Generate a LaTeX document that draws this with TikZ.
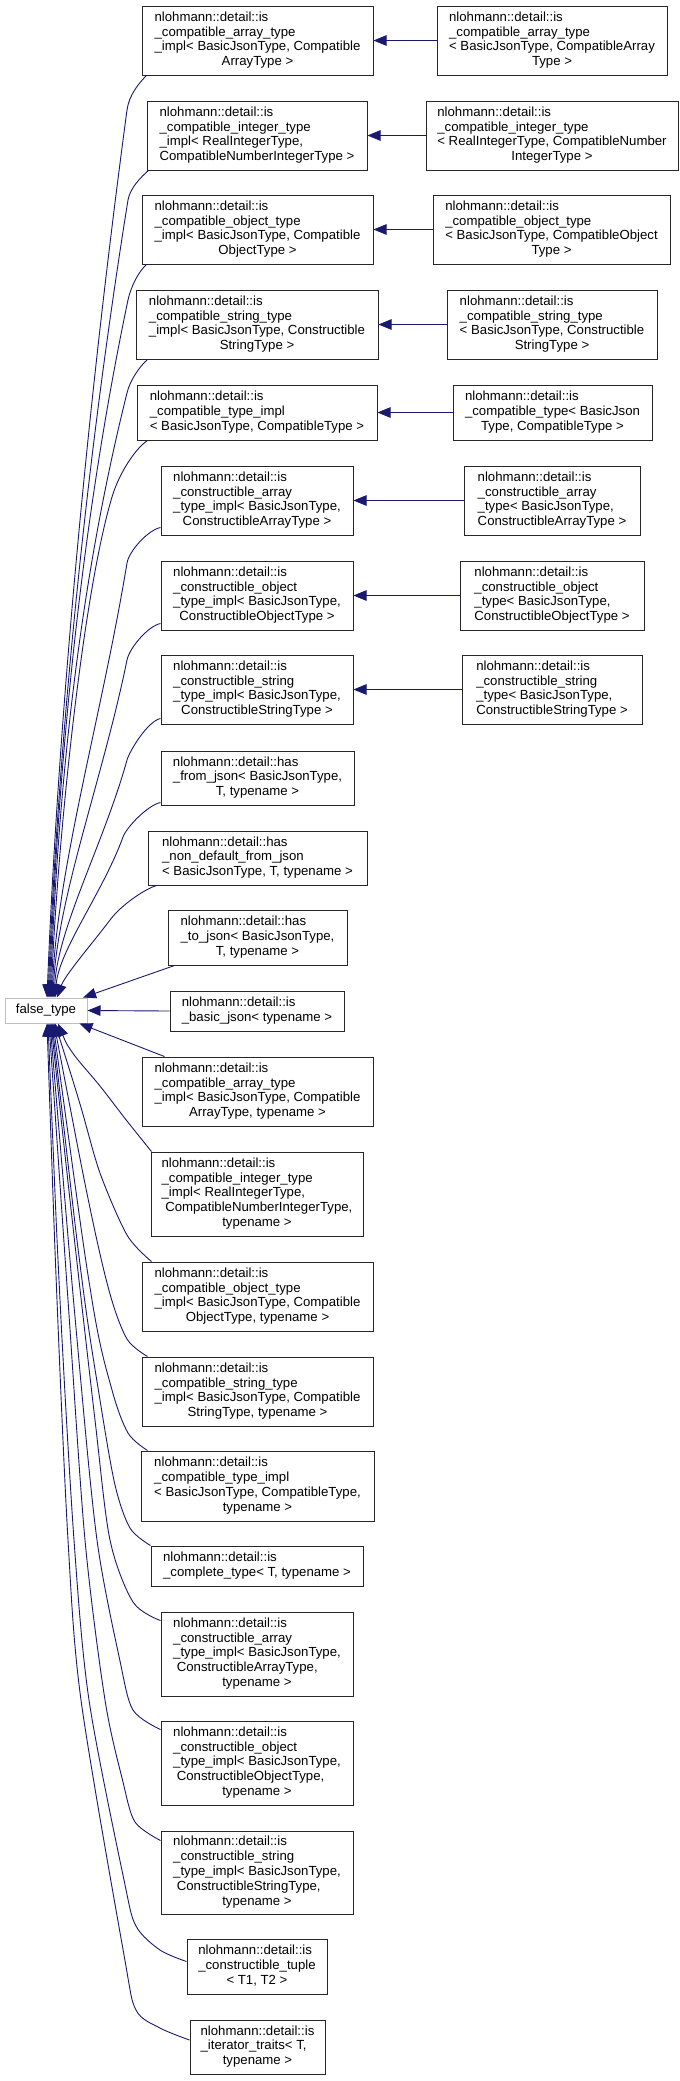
\documentclass[tikz,border=0pt]{standalone}
\usepackage{fontspec}
\setmainfont{Liberation Sans}
\usetikzlibrary{arrows.meta}
\definecolor{edgecol}{HTML}{191970}
\newcommand{\lbl}[2]{\begin{tabular}{@{}l@{}}#1\\\multicolumn{1}{@{}c@{}}{#2}\end{tabular}}
\begin{document}
\begin{tikzpicture}[x=1pt,y=-1pt,
  font=\fontsize{13.2}{14.8}\selectfont,
  box/.style={draw=black!85, line width=1pt, fill=white, inner sep=0pt},
  gbox/.style={draw=black!25, line width=1pt, fill=white, inner sep=0pt},
  arr/.style={draw=edgecol, line width=0.9pt, {Triangle[length=13pt,width=10.5pt]}-}]
\fill[white] (0,0) rectangle (680,2081);
\useasboundingbox (0,0) rectangle (680,2081);

% upper pairs
\node[box, minimum width=231pt, minimum height=69pt] (L1) at (257.5,40.5) {\lbl{nlohmann::detail::is\\\_compatible\_array\_type\\\_impl< BasicJsonType, Compatible}{ArrayType >}};
\node[box, minimum width=230pt, minimum height=69pt] (R1) at (552,40.5) {\lbl{nlohmann::detail::is\\\_compatible\_array\_type\\< BasicJsonType, CompatibleArray}{Type >}};
\node[box, minimum width=220pt, minimum height=69pt] (L2) at (257,135.5) {\lbl{nlohmann::detail::is\\\_compatible\_integer\_type\\\_impl< RealIntegerType,}{CompatibleNumberIntegerType >}};
\node[box, minimum width=252pt, minimum height=69pt] (R2) at (552,135.5) {\lbl{nlohmann::detail::is\\\_compatible\_integer\_type\\< RealIntegerType, CompatibleNumber}{IntegerType >}};
\node[box, minimum width=231pt, minimum height=69pt] (L3) at (257.5,229.5) {\lbl{nlohmann::detail::is\\\_compatible\_object\_type\\\_impl< BasicJsonType, Compatible}{ObjectType >}};
\node[box, minimum width=237pt, minimum height=69pt] (R3) at (551.5,229.5) {\lbl{nlohmann::detail::is\\\_compatible\_object\_type\\< BasicJsonType, CompatibleObject}{Type >}};
\node[box, minimum width=242pt, minimum height=69pt] (L4) at (257,324.5) {\lbl{nlohmann::detail::is\\\_compatible\_string\_type\\\_impl< BasicJsonType, Constructible}{StringType >}};
\node[box, minimum width=210pt, minimum height=69pt] (R4) at (552,324.5) {\lbl{nlohmann::detail::is\\\_compatible\_string\_type\\< BasicJsonType, Constructible}{StringType >}};
\node[box, minimum width=240pt, minimum height=55pt] (L5) at (257,412.5) {\lbl{nlohmann::detail::is\\\_compatible\_type\_impl}{< BasicJsonType, CompatibleType >}};
\node[box, minimum width=199pt, minimum height=55pt] (R5) at (552.5,412.5) {\lbl{nlohmann::detail::is\\\_compatible\_type< BasicJson}{Type, CompatibleType >}};
\node[box, minimum width=192pt, minimum height=69pt] (L6) at (257,500.5) {\lbl{nlohmann::detail::is\\\_constructible\_array\\\_type\_impl< BasicJsonType,}{ConstructibleArrayType >}};
\node[box, minimum width=176pt, minimum height=69pt] (R6) at (552,500.5) {\lbl{nlohmann::detail::is\\\_constructible\_array\\\_type< BasicJsonType,}{ConstructibleArrayType >}};
\node[box, minimum width=192pt, minimum height=69pt] (L7) at (257,595.5) {\lbl{nlohmann::detail::is\\\_constructible\_object\\\_type\_impl< BasicJsonType,}{ConstructibleObjectType >}};
\node[box, minimum width=184pt, minimum height=69pt] (R7) at (552,595.5) {\lbl{nlohmann::detail::is\\\_constructible\_object\\\_type< BasicJsonType,}{ConstructibleObjectType >}};
\node[box, minimum width=192pt, minimum height=69pt] (L8) at (257,689.5) {\lbl{nlohmann::detail::is\\\_constructible\_string\\\_type\_impl< BasicJsonType,}{ConstructibleStringType >}};
\node[box, minimum width=180pt, minimum height=69pt] (R8) at (552,689.5) {\lbl{nlohmann::detail::is\\\_constructible\_string\\\_type< BasicJsonType,}{ConstructibleStringType >}};
\node[box, minimum width=193pt, minimum height=54pt] (L9) at (257.5,778) {\lbl{nlohmann::detail::has\\\_from\_json< BasicJsonType,}{T, typename >}};
\node[box, minimum width=219pt, minimum height=54pt] (L10) at (257.5,858) {\lbl{nlohmann::detail::has\\\_non\_default\_from\_json}{< BasicJsonType, T, typename >}};
\node[box, minimum width=179pt, minimum height=55pt] (L11) at (257.5,937.5) {\lbl{nlohmann::detail::has\\\_to\_json< BasicJsonType,}{T, typename >}};
\node[gbox, minimum width=82pt, minimum height=25pt] (F) at (46,1010.5) {false\_type};
\node[box, minimum width=174pt, minimum height=40pt] (L12) at (257,1011) {\lbl{nlohmann::detail::is}{\_basic\_json< typename >}};
% lower
\node[box, minimum width=231pt, minimum height=69pt] (L13) at (257.5,1091.5) {\lbl{nlohmann::detail::is\\\_compatible\_array\_type\\\_impl< BasicJsonType, Compatible}{ArrayType, typename >}};
\node[box, minimum width=212pt, minimum height=84pt] (L14) at (257,1194) {\lbl{nlohmann::detail::is\\\_compatible\_integer\_type\\\_impl< RealIntegerType,\\\ CompatibleNumberIntegerType,}{typename >}};
\node[box, minimum width=231pt, minimum height=69pt] (L15) at (257.5,1296.5) {\lbl{nlohmann::detail::is\\\_compatible\_object\_type\\\_impl< BasicJsonType, Compatible}{ObjectType, typename >}};
\node[box, minimum width=231pt, minimum height=69pt] (L16) at (257.5,1391.5) {\lbl{nlohmann::detail::is\\\_compatible\_string\_type\\\_impl< BasicJsonType, Compatible}{StringType, typename >}};
\node[box, minimum width=233pt, minimum height=70pt] (L17) at (257.5,1486) {\lbl{nlohmann::detail::is\\\_compatible\_type\_impl\\< BasicJsonType, CompatibleType,}{typename >}};
\node[box, minimum width=212pt, minimum height=40pt] (L18) at (257,1566) {\lbl{nlohmann::detail::is}{\_complete\_type< T, typename >}};
\node[box, minimum width=192pt, minimum height=84pt] (L19) at (257,1654) {\lbl{nlohmann::detail::is\\\_constructible\_array\\\_type\_impl< BasicJsonType,\\\ ConstructibleArrayType,}{typename >}};
\node[box, minimum width=192pt, minimum height=84pt] (L20) at (257,1763) {\lbl{nlohmann::detail::is\\\_constructible\_object\\\_type\_impl< BasicJsonType,\\\ ConstructibleObjectType,}{typename >}};
\node[box, minimum width=192pt, minimum height=83pt] (L21) at (257,1872.5) {\lbl{nlohmann::detail::is\\\_constructible\_string\\\_type\_impl< BasicJsonType,\\\ ConstructibleStringType,}{typename >}};
\node[box, minimum width=140pt, minimum height=55pt] (L22) at (257,1966.5) {\lbl{nlohmann::detail::is\\\_constructible\_tuple}{< T1, T2 >}};
\node[box, minimum width=135pt, minimum height=54pt] (L23) at (257.5,2047) {\lbl{nlohmann::detail::is\\\_iterator\_traits< T,}{typename >}};

% horizontal edges
\foreach \i in {1,...,8} \draw[arr] (L\i.east) -- (R\i.west);

% upper curved edges
\draw[arr] ([xshift=1pt]F.north) .. controls (57.7,732) and (85.4,421) .. (127,110) .. controls (129,95) and (139,83) .. ([xshift=5pt]L1.south west);
\draw[arr] ([xshift=2pt]F.north) .. controls (57.6,759) and (83.3,479) .. (128,200) .. controls (130,188) and (141,177) .. ([xshift=2pt]L2.south west);
\draw[arr] ([xshift=3pt]F.north) .. controls (57.4,789) and (76.8,544) .. (128,300) .. controls (131,286) and (139,271) .. ([xshift=5pt]L3.south west);
\draw[arr] ([xshift=4pt]F.north) .. controls (57.3,816) and (74,605) .. (127,393) .. controls (130,380) and (140,366) .. ([xshift=12pt]L4.south west);
\draw[arr] ([xshift=5pt]F.north) .. controls (57,848) and (82,597) .. (112,497) .. controls (119.5,472) and (136,448) .. ([xshift=11pt]L5.south west);
\draw[arr] ([xshift=6pt]F.north) .. controls (57.2,868) and (102,715) .. (127,563) .. controls (129,551) and (148,530) .. ([yshift=8pt]L6.south west);
\draw[arr] ([xshift=7pt]F.north) .. controls (57.5,897) and (103,778) .. (127,660) .. controls (129.4,648) and (148,626) .. ([yshift=7pt]L7.south west);
\draw[arr] ([xshift=8pt]F.north) .. controls (58,927) and (104,843) .. (127,760) .. controls (130,750) and (148,721) .. ([yshift=6pt]L8.south west);
\draw[arr] ([xshift=9pt]F.north) .. controls (59,950) and (102.6,893) .. (123,837) .. controls (126.6,827) and (148,805) .. ([yshift=3pt]L9.south west);
\draw[arr] ([xshift=11pt]F.north) .. controls (65,975) and (95,940) .. (110,920) .. controls (121,905) and (145,889) .. ([xshift=9pt]L10.south west);
\draw[arr] (F) -- ([xshift=7pt]L11.south west);
\draw[arr] (F.east) -- (L12.west);
\draw[arr] (F) -- ([xshift=23pt]L13.north west);

% lower curved edges
\draw[arr] plot[smooth] coordinates {([xshift=12pt]F.south) (72,1052) (100,1086) (127,1121) ([xshift=1pt]L14.north west)};
\draw[arr] plot[smooth] coordinates {([xshift=9pt]F.south) (80,1104) (100,1173) (127,1235) ([xshift=10pt]L15.north west)};
\draw[arr] plot[smooth] coordinates {([xshift=8pt]F.south) (90,1208) (110,1294) (127,1339) ([xshift=6pt]L16.north west)};
\draw[arr] plot[smooth] coordinates {([xshift=7pt]F.south) (92,1300) (112,1390) (128,1433) ([xshift=7pt]L17.north west)};
\draw[arr] plot[smooth] coordinates {([xshift=6pt]F.south) (82,1280) (100,1400) (115,1485) (130,1528) (L18.north west)};
\draw[arr] plot[smooth] coordinates {([xshift=5pt]F.south) (70,1200) (95,1420) (110,1540) (133,1602) ([yshift=-9pt]L19.north west)};
\draw[arr] plot[smooth] coordinates {([xshift=4pt]F.south) (78,1350) (97,1540) (120,1661) (133,1710) ([yshift=-9pt]L20.north west)};
\draw[arr] plot[smooth] coordinates {([xshift=3pt]F.south) (68,1300) (85,1540) (105,1700) (123,1782) (135,1822) ([yshift=-10pt]L21.north west)};
\draw[arr] plot[smooth] coordinates {([xshift=2pt]F.south) (60,1300) (74,1540) (89,1700) (124,1880) (136,1926) (160,1950) ([yshift=5pt]L22.west)};
\draw[arr] plot[smooth] coordinates {([xshift=1pt]F.south) (57,1300) (68,1540) (81,1700) (124,1955) (136,2010) (160,2028) ([yshift=7pt]L23.west)};
\end{tikzpicture}
\end{document}
